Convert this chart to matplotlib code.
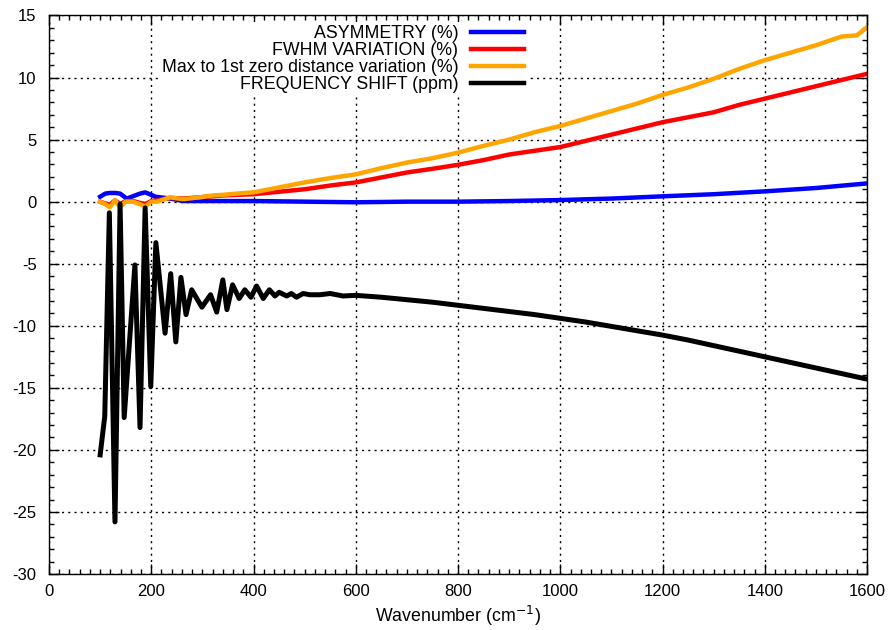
import numpy as np
import matplotlib
matplotlib.use("Agg")
import matplotlib.pyplot as plt
from matplotlib.ticker import MultipleLocator

plt.rcParams['font.family'] = ['Liberation Sans', 'DejaVu Sans']
plt.rcParams['axes.unicode_minus'] = False

# ---------------- data ----------------
wn_asym = [100, 110, 119, 130, 139, 152, 165, 178, 188, 200, 208, 237, 262, 300,
           400, 500, 600, 700, 800, 900, 1000, 1100, 1200, 1300, 1400, 1500, 1600]
asym = [0.4, 0.65, 0.7, 0.7, 0.65, 0.25, 0.45, 0.65, 0.75, 0.55, 0.4, 0.25, 0.05, 0.05,
        0.05, 0.0, -0.05, 0.0, 0.0, 0.05, 0.13, 0.25, 0.43, 0.6, 0.83, 1.1, 1.47]

wn_fwhm = [100, 110, 119, 129, 139, 150, 164, 178, 188, 200, 211, 237, 262, 295, 340,
           367, 400, 450, 500, 550, 600, 650, 700, 750, 800, 850, 900, 950, 1000, 1050,
           1100, 1150, 1200, 1250, 1300, 1350, 1400, 1450, 1500, 1550, 1600]
fwhm = [0.0, -0.15, -0.25, 0.1, -0.2, 0.05, 0.05, -0.1, -0.2, 0.05, 0.1, 0.3, 0.25, 0.35, 0.5,
        0.55, 0.6, 0.8, 1.0, 1.3, 1.55, 1.95, 2.35, 2.65, 2.97, 3.35, 3.8, 4.1, 4.4, 4.9,
        5.4, 5.9, 6.4, 6.8, 7.2, 7.8, 8.3, 8.8, 9.3, 9.8, 10.3]

wn_maxzero = [100, 110, 119, 129, 139, 150, 164, 178, 188, 200, 211, 237, 262, 295, 320,
              340, 367, 400, 450, 500, 550, 600, 650, 700, 750, 800, 850, 900, 950, 1000,
              1050, 1100, 1150, 1200, 1250, 1300, 1350, 1400, 1450, 1500, 1550, 1580, 1600]
maxzero = [0.0, -0.2, -0.45, 0.1, -0.45, 0.0, 0.0, -0.2, -0.4, 0.0, 0.0, 0.35, 0.2, 0.35, 0.5,
           0.55, 0.65, 0.75, 1.15, 1.55, 1.9, 2.2, 2.7, 3.15, 3.5, 3.95, 4.5, 5.0, 5.6, 6.1,
           6.7, 7.3, 7.9, 8.6, 9.2, 9.9, 10.7, 11.4, 12.0, 12.6, 13.3, 13.4, 14.05]

wn_shift = [100, 109, 118, 129, 139, 147, 168, 178, 188, 199, 209, 227, 238, 248, 258,
            268, 279, 299, 316, 328, 340, 348, 359, 372, 383, 395, 406, 419, 431, 442,
            450, 465, 474, 484, 497, 510, 530, 550, 575, 600, 650, 700, 750, 800, 850,
            900, 950, 1000, 1050, 1100, 1150, 1200, 1250, 1300, 1350, 1400, 1450, 1500,
            1550, 1600]
shift = [-20.4, -17.3, -0.9, -25.8, -0.2, -17.4, -5.1, -18.2, -0.5, -14.9, -3.3, -10.6, -5.8, -11.3, -6.1,
         -9.1, -7.1, -8.5, -7.5, -8.9, -6.3, -8.7, -6.7, -7.8, -7.1, -7.7, -6.8, -7.8, -7.1, -7.6,
         -7.3, -7.6, -7.4, -7.7, -7.4, -7.5, -7.5, -7.4, -7.6, -7.55, -7.7, -7.9, -8.1, -8.35, -8.6,
         -8.85, -9.1, -9.4, -9.7, -10.05, -10.4, -10.75, -11.15, -11.6, -12.05, -12.5, -12.95, -13.4,
         -13.85, -14.3]

labels = ["ASYMMETRY (%)", "FWHM VARIATION (%)",
          "Max to 1st zero distance variation (%)", "FREQUENCY SHIFT (ppm)"]
colors = ["#0000ff", "#ff0000", "#ffa500", "#000000"]
widths = [3.2, 3.2, 3.2, 3.6]

# ---------------- plot ----------------
fig = plt.figure(figsize=(8.88, 6.30), dpi=100)
ax = fig.add_axes([0.0552, 0.0889, 0.9212, 0.8865])

series = [(wn_asym, asym), (wn_fwhm, fwhm), (wn_maxzero, maxzero), (wn_shift, shift)]
for (x, y), lab, c, w in zip(series, labels, colors, widths):
    ax.plot(x, y, color=c, lw=w, label=lab)

ax.set_xlim(0, 1600)
ax.set_ylim(-30, 15)
ax.xaxis.set_major_locator(MultipleLocator(200))
ax.xaxis.set_minor_locator(MultipleLocator(20))
ax.yaxis.set_major_locator(MultipleLocator(5))
ax.yaxis.set_minor_locator(MultipleLocator(1))
ax.tick_params(which="both", direction="in", top=True, right=True, labelsize=12, colors="black")
ax.tick_params(which="major", length=7, width=1)
ax.tick_params(which="minor", length=3.5, width=1)
ax.tick_params(axis="x", pad=7)
ax.tick_params(axis="y", pad=9)
ax.grid(True, which="major", color="black", linestyle=(0, (1.5, 3)), lw=1)
for s in ax.spines.values():
    s.set_linewidth(1)

ax.set_xlabel("Wavenumber (cm$^{-1}$)", fontsize=12.8, labelpad=4)

leg = ax.legend(loc="upper right", bbox_to_anchor=(0.584, 0.988), frameon=True,
                markerfirst=False, fontsize=12.8, handlelength=3.0,
                labelspacing=0.0, handletextpad=0.7, borderaxespad=0.0,
                borderpad=0.15, fancybox=False)
leg.get_frame().set_facecolor("white")
leg.get_frame().set_edgecolor("none")
leg.get_frame().set_alpha(1)
for h in leg.get_lines():
    h.set_linewidth(3.2)

fig.savefig("out.png", dpi=100)
